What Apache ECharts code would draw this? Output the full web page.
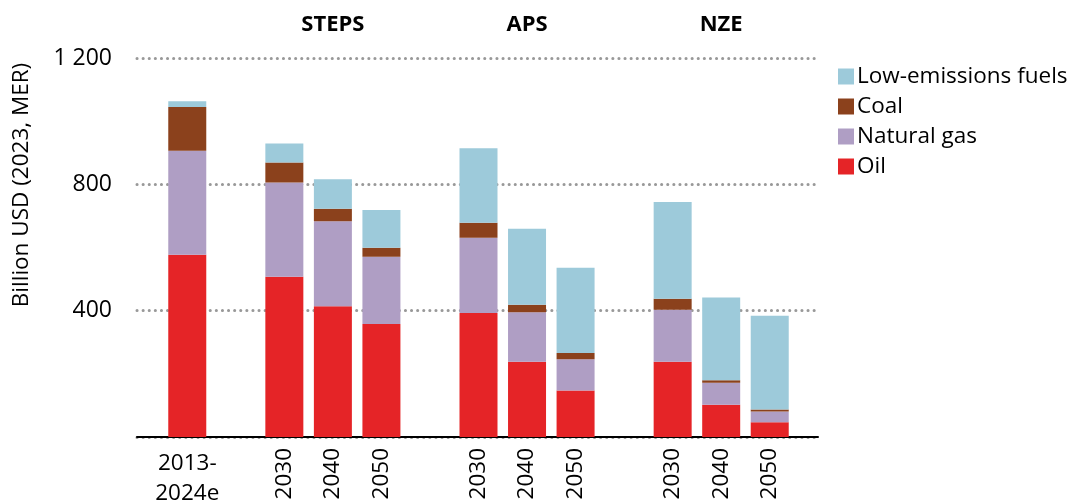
<!DOCTYPE html>
<html>
<head>
<meta charset="utf-8">
<script src="https://cdn.jsdelivr.net/npm/echarts@6/dist/echarts.min.js"></script>
<style>
html,body{margin:0;padding:0;background:#fff;}
#chart{width:1074px;height:501px;}
</style>
</head>
<body>
<div id="chart"></div>
<script>
// Slots along the x axis (blank strings are the gaps between scenario groups)
const categories = ['2013-2024e', '', '2030', '2040', '2050', '', '2030', '2040', '2050', '', '2030', '2040', '2050'];
const groupLabels = ['', '', '', 'STEPS', '', '', '', 'APS', '', '', '', 'NZE', ''];
const oil       = [577, null, 507, 414, 358, null, 393, 238, 147, null, 238, 102, 47];
const gas       = [329, null, 299, 269, 213, null, 238, 157,  99, null, 165,  70, 34];
const coal      = [139, null,  63,  40,  28, null,  47,  24,  20, null,  35,   8,  6];
const lowEm     = [ 18, null,  60,  93, 120, null, 236, 240, 270, null, 306, 262, 297];
const yTicks    = [0, 400, 800, 1200];
const yTickLabels = ['', '400', '800', '1 200'];

const FONT = 'Open Sans';
const colors = {oil:'#E52427', gas:'#AF9EC4', coal:'#8B411C', low:'#9DCADA'};

const catIdx = categories.map((c,i)=>String(i));
function yearLabel(i){ const c = categories[+i]; return /^\d{4}$/.test(c) ? c : ''; }
function otherLabel(i){ const c = categories[+i]; return (c && !/^\d{4}$/.test(c)) ? c.replace('-', '-\n') : ''; }

const chart = echarts.init(document.getElementById('chart'), null, {renderer:'canvas'});
const barW = 38;
function s(name, data, color){
  return {name, type:'bar', stack:'total', data, barWidth: barW, xAxisIndex:1, yAxisIndex:1,
    itemStyle:{color}, emphasis:{disabled:true}, silent:true};
}
const gTop = 58, gBottom = 64;
chart.setOption({
  animation:false,
  backgroundColor:'#fff',
  textStyle:{fontFamily:FONT},
  grid:[
    {left:137, right:256, top:gTop, bottom:gBottom, containLabel:false, outerBoundsMode:'none'},
    {left:163, right:280, top:gTop, bottom:gBottom, containLabel:false, outerBoundsMode:'none'}
  ],
  legend:{
    orient:'vertical', left:833, top:60, itemWidth:16, itemHeight:16, itemGap:7,
    icon:'rect',
    textStyle:{fontFamily:FONT, fontSize:22.5, color:'#000', padding:[0,0,0,-2]},
    data:['Low-emissions fuels','Coal','Natural gas','Oil'],
    selectedMode:false
  },
  xAxis:[
    {type:'value', gridIndex:0, min:0, max:1, position:'bottom',
     axisLine:{show:true, onZero:false, lineStyle:{color:'#000', width:2}},
     axisTick:{show:false}, splitLine:{show:false}, axisLabel:{show:false}},
    {type:'category', gridIndex:1, data:catIdx, position:'bottom',
     axisLine:{show:false}, axisTick:{show:false}, splitLine:{show:false},
     axisLabel:{show:true, interval:0, rotate:90, margin:11, fontFamily:FONT, fontSize:22.5, color:'#000',
       formatter:yearLabel}},
    {type:'category', gridIndex:1, data:catIdx, position:'bottom',
     axisLine:{show:false}, axisTick:{show:false}, splitLine:{show:false},
     axisLabel:{show:true, interval:0, margin:12, fontFamily:FONT, fontSize:22.5, color:'#000', lineHeight:30,
       formatter:otherLabel}},
    {type:'category', gridIndex:1, data:catIdx, position:'top',
     axisLine:{show:false}, axisTick:{show:false}, splitLine:{show:false},
     axisLabel:{show:true, interval:0, margin:22, fontFamily:FONT, fontSize:22, fontWeight:'bold', color:'#000',
       formatter:(i)=>groupLabels[+i]}}
  ],
  yAxis:[
    {type:'value', gridIndex:0, min:0, max:1200, interval:400,
     axisLine:{show:false}, axisTick:{show:false},
     axisLabel:{fontFamily:FONT, fontSize:23, color:'#000', margin:25,
       formatter:(v)=>{const i=yTicks.indexOf(v); return i>=0 ? yTickLabels[i] : '';}},
     splitLine:{show:true, lineStyle:{color:'#999', width:3, type:[0.1,6], cap:'round'}}},
    {type:'value', gridIndex:1, min:0, max:1200, interval:400,
     axisLine:{show:false}, axisTick:{show:false}, axisLabel:{show:false}, splitLine:{show:false}}
  ],
  graphic:[{type:'text', x:22, y:185, rotation:Math.PI/2,
    style:{text:'Billion USD (2023, MER)', fontFamily:FONT, fontSize:22.5, fill:'#000',
      align:'center', verticalAlign:'middle'}}],
  series:[
    s('Oil', oil, colors.oil),
    s('Natural gas', gas, colors.gas),
    s('Coal', coal, colors.coal),
    s('Low-emissions fuels', lowEm, colors.low)
  ]
});
</script>
</body>
</html>
